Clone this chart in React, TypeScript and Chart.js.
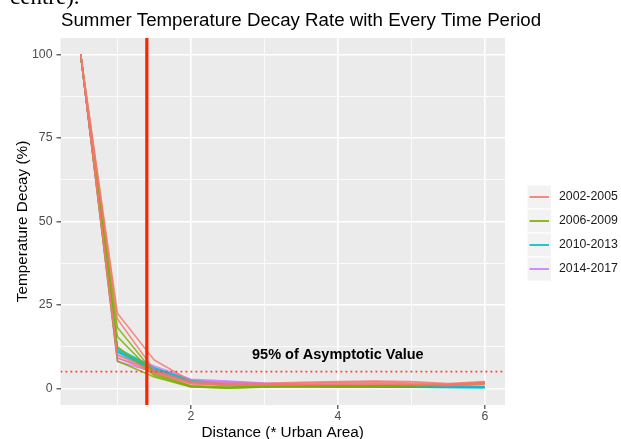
import React, { useEffect, useRef } from "react";
import { Chart, registerables } from "chart.js";

Chart.register(...registerables);

// ---- data ----
const distances = [0.5, 1, 1.5, 2, 2.5, 3, 3.5, 4, 4.5, 5, 5.5, 6];
const periods = ["2002-2005", "2006-2009", "2010-2013", "2014-2017"];
const periodColors = ["#F8766D", "#7CAE00", "#00BFC4", "#C77CFF"];

const decayP1a = [100, 22.5, 8.5, 2.2, 1.5, 1.5, 1.8, 2.0, 2.2, 2.0, 1.4, 2.0];
const decayP1b = [100, 20.8, 5.5, 1.8, 1.2, 1.3, 1.6, 1.8, 2.0, 1.6, 1.2, 1.8];
const decayP1c = [100, 10.0, 5.0, 1.5, 1.0, 1.0, 1.2, 1.5, 1.6, 1.3, 1.0, 1.5];
const decayP1d = [100, 9.2, 4.6, 1.3, 0.9, 0.9, 1.0, 1.2, 1.3, 1.1, 0.8, 1.2];

const decayP2a = [100, 18.2, 4.6, 0.8, 0.4, 0.6, 0.7, 0.8, 0.9, 1.0, 1.2, 1.8];
const decayP2b = [100, 15.5, 4.2, 0.6, 0.2, 0.5, 0.6, 0.6, 0.8, 0.9, 1.1, 1.6];
const decayP2c = [100, 12.5, 3.8, 0.5, 0.1, 0.4, 0.5, 0.5, 0.7, 0.8, 1.0, 1.5];
const decayP2d = [100, 8.2, 3.4, 0.4, 0.0, 0.3, 0.4, 0.4, 0.6, 0.7, 0.9, 1.3];

const decayP3a = [100, 12.0, 6.2, 2.4, 1.2, 0.9, 0.8, 0.7, 0.6, 0.5, 0.4, 0.4];
const decayP3b = [100, 11.6, 5.8, 2.1, 1.0, 0.8, 0.6, 0.5, 0.5, 0.4, 0.3, 0.3];
const decayP3c = [100, 11.2, 5.5, 1.9, 0.9, 0.7, 0.6, 0.5, 0.4, 0.3, 0.3, 0.2];
const decayP3d = [100, 10.8, 5.2, 1.8, 0.8, 0.6, 0.5, 0.4, 0.3, 0.3, 0.2, 0.2];

const decayP4a = [100, 11.0, 6.7, 2.7, 2.2, 1.6, 1.3, 1.0, 0.9, 0.8, 0.7, 0.6];
const decayP4b = [100, 10.0, 6.2, 2.4, 2.0, 1.4, 1.1, 0.9, 0.8, 0.7, 0.6, 0.5];
const decayP4c = [100, 9.0, 5.6, 2.1, 1.8, 1.2, 1.0, 0.8, 0.7, 0.6, 0.5, 0.4];
const decayP4d = [100, 8.0, 5.0, 1.8, 1.6, 1.1, 0.9, 0.7, 0.6, 0.5, 0.4, 0.3];

const seriesByPeriod = [
  [decayP1a, decayP1b, decayP1c, decayP1d],
  [decayP2a, decayP2b, decayP2c, decayP2d],
  [decayP3a, decayP3b, decayP3c, decayP3d],
  [decayP4a, decayP4b, decayP4c, decayP4d],
];

const xTickValues = [1, 2, 3, 4, 5, 6];
const xLabelled = [2, 4, 6];
const yTickValues = [0, 12.5, 25, 37.5, 50, 62.5, 75, 87.5, 100];
const yLabelled = [0, 25, 50, 75, 100];

const thresholdValue = 5;
const cutoffDistance = 1.4;
const annotationText = "95% of Asymptotic Value";
const annotationX = 4;
const annotationY = 10;

const titleText = "Summer Temperature Decay Rate with Every Time Period";
const xTitle = "Distance (* Urban Area)";
const yTitle = "Temperature Decay (%)";

const SANS = '"Liberation Sans", Arial, Helvetica, sans-serif';

function hexA(hex: string, a: number) {
  const n = parseInt(hex.slice(1), 16);
  return `rgba(${(n >> 16) & 255},${(n >> 8) & 255},${n & 255},${a})`;
}

const decorPlugin = {
  id: "decor",
  beforeDraw(chart: any) {
    const { ctx, chartArea: a } = chart;
    ctx.save();
    ctx.fillStyle = "#ffffff";
    ctx.fillRect(0, 0, chart.width, chart.height);
    ctx.fillStyle = "#EBEBEB";
    ctx.fillRect(a.left, a.top, a.right - a.left, a.bottom - a.top);
    ctx.restore();
  },
  afterDatasetsDraw(chart: any) {
    const { ctx, chartArea: a, scales } = chart;
    const x = scales.x;
    const y = scales.y;
    ctx.save();
    ctx.beginPath();
    ctx.rect(a.left, a.top, a.right - a.left, a.bottom - a.top);
    ctx.clip();
    const yy = y.getPixelForValue(thresholdValue);
    ctx.strokeStyle = "#FF3A2E";
    ctx.lineWidth = 1.6;
    ctx.setLineDash([1.8, 3.2]);
    ctx.beginPath();
    ctx.moveTo(a.left, yy);
    ctx.lineTo(a.right, yy);
    ctx.stroke();
    ctx.setLineDash([]);
    const xx = x.getPixelForValue(cutoffDistance);
    ctx.strokeStyle = "#FF2200";
    ctx.lineWidth = 3.2;
    ctx.beginPath();
    ctx.moveTo(xx, a.top);
    ctx.lineTo(xx, a.bottom);
    ctx.stroke();
    ctx.restore();

    ctx.save();
    ctx.font = `bold 14.5px ${SANS}`;
    ctx.fillStyle = "#000000";
    ctx.textAlign = "center";
    ctx.textBaseline = "middle";
    ctx.fillText(annotationText, x.getPixelForValue(annotationX), y.getPixelForValue(annotationY));
    ctx.restore();
  },
  afterDraw(chart: any) {
    const { ctx, chartArea: a } = chart;
    ctx.save();
    // clipped document text above the figure
    ctx.font = '23px "Liberation Serif", "Times New Roman", serif';
    ctx.fillStyle = "#000";
    ctx.textAlign = "left";
    ctx.textBaseline = "alphabetic";
    ctx.fillText("centre).", 10, 3.5);

    // title
    ctx.font = `18.7px ${SANS}`;
    ctx.fillStyle = "#000";
    ctx.fillText(titleText, a.left + 0.5, 26);

    // x axis title
    ctx.font = `15.3px ${SANS}`;
    ctx.textAlign = "center";
    ctx.fillText(xTitle, (a.left + a.right) / 2, 436.5);

    // y axis title
    ctx.save();
    ctx.translate(27, (a.top + a.bottom) / 2);
    ctx.rotate(-Math.PI / 2);
    ctx.textAlign = "center";
    ctx.fillText(yTitle, 0, 0);
    ctx.restore();

    // legend
    const keyX = 527;
    const keyW = 24.5;
    const keyH = 24;
    const top0 = 185;
    periods.forEach((p, i) => {
      const ky = top0 + i * keyH;
      ctx.fillStyle = "#F2F2F2";
      ctx.fillRect(keyX, ky, keyW, keyH);
      ctx.strokeStyle = "#ffffff";
      ctx.lineWidth = 1;
      ctx.strokeRect(keyX, ky, keyW, keyH);
      ctx.strokeStyle = periodColors[i];
      ctx.lineWidth = 1.7;
      ctx.beginPath();
      ctx.moveTo(keyX + 2.5, ky + keyH / 2);
      ctx.lineTo(keyX + keyW - 2.5, ky + keyH / 2);
      ctx.stroke();
      ctx.fillStyle = "#1A1A1A";
      ctx.font = `12.3px ${SANS}`;
      ctx.textAlign = "left";
      ctx.textBaseline = "middle";
      ctx.fillText(p, 559, ky + keyH / 2);
    });
    ctx.restore();
  },
};

export default function App() {
  const canvasRef = useRef<HTMLCanvasElement | null>(null);

  useEffect(() => {
    const canvas = canvasRef.current;
    if (!canvas) return;
    const datasets: any[] = [];
    seriesByPeriod.forEach((group, gi) => {
      group.forEach((vals, k) => {
        datasets.push({
          label: `${periods[gi]} #${k + 1}`,
          data: distances.map((d, i) => ({ x: d, y: vals[i] })),
          borderColor: hexA(periodColors[gi], 0.8),
          borderWidth: 1.6,
          pointRadius: 0,
          fill: false,
          tension: 0,
          borderJoinStyle: "round",
        });
      });
    });

    const chart = new Chart(canvas, {
      type: "line",
      data: { datasets },
      options: {
        animation: false,
        responsive: false,
        devicePixelRatio: 1,
        events: [],
        layout: { padding: { left: 0, right: 116, top: 38, bottom: 0 } },
        plugins: {
          legend: { display: false },
          title: { display: false },
          tooltip: { enabled: false },
        },
        scales: {
          x: {
            type: "linear",
            min: 0.225,
            max: 6.275,
            afterBuildTicks: (s: any) => {
              s.ticks = xTickValues.map((v) => ({ value: v }));
            },
            afterFit: (s: any) => {
              s.height = 34;
            },
            border: { display: false },
            grid: {
              color: "#ffffff",
              lineWidth: (c: any) => (xLabelled.includes(c.tick?.value) ? 1.6 : 0.8),
              drawTicks: true,
              tickLength: 4,
              tickWidth: 1.1,
              tickColor: (c: any) => (xLabelled.includes(c.tick?.value) ? "#333333" : "rgba(0,0,0,0)"),
            },
            ticks: {
              autoSkip: false,
              maxRotation: 0,
              padding: 0,
              color: "#4D4D4D",
              font: { family: SANS, size: 12.3 },
              callback: (v: any) => (xLabelled.includes(Number(v)) ? String(v) : ""),
            },
          },
          y: {
            type: "linear",
            min: -5,
            max: 105,
            afterBuildTicks: (s: any) => {
              s.ticks = yTickValues.map((v) => ({ value: v }));
            },
            afterFit: (s: any) => {
              s.width = 60.5;
            },
            border: { display: false },
            grid: {
              color: "#ffffff",
              lineWidth: (c: any) => (yLabelled.includes(c.tick?.value) ? 1.6 : 0.8),
              drawTicks: true,
              tickLength: 4,
              tickWidth: 1.1,
              tickColor: (c: any) => (yLabelled.includes(c.tick?.value) ? "#333333" : "rgba(0,0,0,0)"),
            },
            ticks: {
              autoSkip: false,
              padding: 4,
              color: "#4D4D4D",
              font: { family: SANS, size: 12.3 },
              callback: (v: any) => (yLabelled.includes(Number(v)) ? String(v) : ""),
            },
          },
        },
      },
      plugins: [decorPlugin],
    });
    return () => chart.destroy();
  }, []);

  return (
    <div style={{ position: "absolute", left: 0, top: 0, width: 621, height: 439 }}>
      <canvas ref={canvasRef} width={621} height={439} style={{ display: "block", width: 621, height: 439 }} />
    </div>
  );
}
